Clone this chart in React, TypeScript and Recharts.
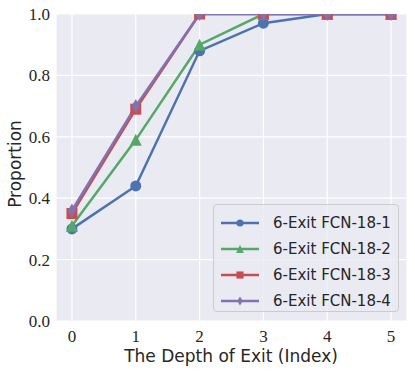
import { CartesianGrid, Legend, Line, LineChart, XAxis, YAxis } from "recharts"

const depths = [0, 1, 2, 3, 4, 5]
const fcn1 = [0.3, 0.44, 0.88, 0.97, 1.0, 1.0]
const fcn2 = [0.31, 0.59, 0.9, 1.0, 1.0, 1.0]
const fcn3 = [0.35, 0.69, 1.0, 1.0, 1.0, 1.0]
const fcn4 = [0.36, 0.7, 1.0, 1.0, 1.0, 1.0]
const xTicks = [0, 1, 2, 3, 4, 5]
const yTicks = [0, 0.2, 0.4, 0.6, 0.8, 1.0]

const series = [
  { key: "fcn1", name: "6-Exit FCN-18-1", color: "#4C72B0", shape: "circle" },
  { key: "fcn2", name: "6-Exit FCN-18-2", color: "#55A868", shape: "triangle" },
  { key: "fcn3", name: "6-Exit FCN-18-3", color: "#C44E52", shape: "square" },
  { key: "fcn4", name: "6-Exit FCN-18-4", color: "#8172B2", shape: "diamond" },
]

const data = depths.map((d, i) => ({
  depth: d,
  fcn1: fcn1[i],
  fcn2: fcn2[i],
  fcn3: fcn3[i],
  fcn4: fcn4[i],
}))

const TEXT = "#262626"
const SERIF = "'Liberation Serif', serif"
const SANS = "'DejaVu Sans', sans-serif"

type MarkerProps = { shape: string; cx: number; cy: number; color: string; s?: number }

const Marker = ({ shape, cx, cy, color, s = 1 }: MarkerProps) => {
  if (shape === "circle") return <circle cx={cx} cy={cy} r={5.5 * s} fill={color} />
  if (shape === "square")
    return <rect x={cx - 5.5 * s} y={cy - 5.5 * s} width={11 * s} height={11 * s} fill={color} />
  if (shape === "triangle") {
    const h = 6 * s
    return (
      <polygon
        points={`${cx},${cy - h} ${cx - h},${cy + h} ${cx + h},${cy + h}`}
        fill={color}
      />
    )
  }
  const h = 7 * s
  const w = 4.2 * s
  return (
    <polygon
      points={`${cx},${cy - h} ${cx + w},${cy} ${cx},${cy + h} ${cx - w},${cy}`}
      fill={color}
    />
  )
}

const LegendBox = () => (
  <div
    style={{
      boxSizing: "border-box",
      width: 186,
      height: 108,
      border: "1px solid #cccccc",
      borderRadius: 4,
      background: "rgba(234,234,242,0.8)",
      padding: "5px 0 0 6px",
    }}
  >
    {series.map((s) => (
      <div key={s.key} style={{ display: "flex", alignItems: "center", height: 26 }}>
        <svg width={40} height={16} style={{ flex: "none" }}>
          <line x1={1} y1={8} x2={39} y2={8} stroke={s.color} strokeWidth={2.5} />
          <Marker shape={s.shape} cx={20} cy={8} color={s.color} s={0.65} />
        </svg>
        <span
          style={{
            marginLeft: 13,
            fontFamily: SANS,
            fontSize: 15,
            color: TEXT,
            whiteSpace: "nowrap",
          }}
        >
          {s.name}
        </span>
      </div>
    ))}
  </div>
)

export default function App() {
  return (
    <div style={{ position: "absolute", left: 0, top: 0, width: 415, height: 374, background: "#fff" }}>
      <LineChart
        width={415}
        height={374}
        data={data}
        margin={{ top: 14, right: 8, left: 0, bottom: 0 }}
      >
        <CartesianGrid fill="#EAEAF2" stroke="#ffffff" strokeWidth={1.2} />
        <XAxis
          dataKey="depth"
          type="number"
          domain={[-0.25, 5.25]}
          ticks={xTicks}
          axisLine={false}
          tickLine={false}
          tickSize={6}
          tickMargin={3}
          height={53}
          tick={{ fill: TEXT, fontFamily: SERIF, fontSize: 17 }}
          label={{
            content: () => (
              <text
                x={231}
                y={362}
                textAnchor="middle"
                fontFamily={SANS}
                fontSize={17}
                fill={TEXT}
              >
                The Depth of Exit (Index)
              </text>
            ),
          }}
        />
        <YAxis
          type="number"
          domain={[0, 1]}
          ticks={yTicks}
          allowDataOverflow
          axisLine={false}
          tickLine={false}
          tickSize={6}
          tickMargin={0}
          width={56}
          tickFormatter={(v: number) => v.toFixed(1)}
          tick={{ fill: TEXT, fontFamily: SERIF, fontSize: 17 }}
          label={{
            content: () => (
              <text
                x={21}
                y={164}
                transform="rotate(-90, 21, 164)"
                textAnchor="middle"
                fontFamily={SANS}
                fontSize={17}
                fill={TEXT}
              >
                Proportion
              </text>
            ),
          }}
        />
        <Legend
          layout="vertical"
          align="center"
          verticalAlign="middle"
          wrapperStyle={{ left: 213, top: 204, width: 186, height: 108 }}
          content={() => <LegendBox />}
        />
        {series.map((s) => (
          <Line
            key={s.key}
            dataKey={s.key}
            name={s.name}
            stroke={s.color}
            strokeWidth={2.5}
            isAnimationActive={false}
            dot={(p: any) => (
              <Marker
                key={`${s.key}-${p.index}`}
                shape={s.shape}
                cx={p.cx}
                cy={p.cy}
                color={s.color}
              />
            )}
            activeDot={false}
          />
        ))}
      </LineChart>
    </div>
  )
}
